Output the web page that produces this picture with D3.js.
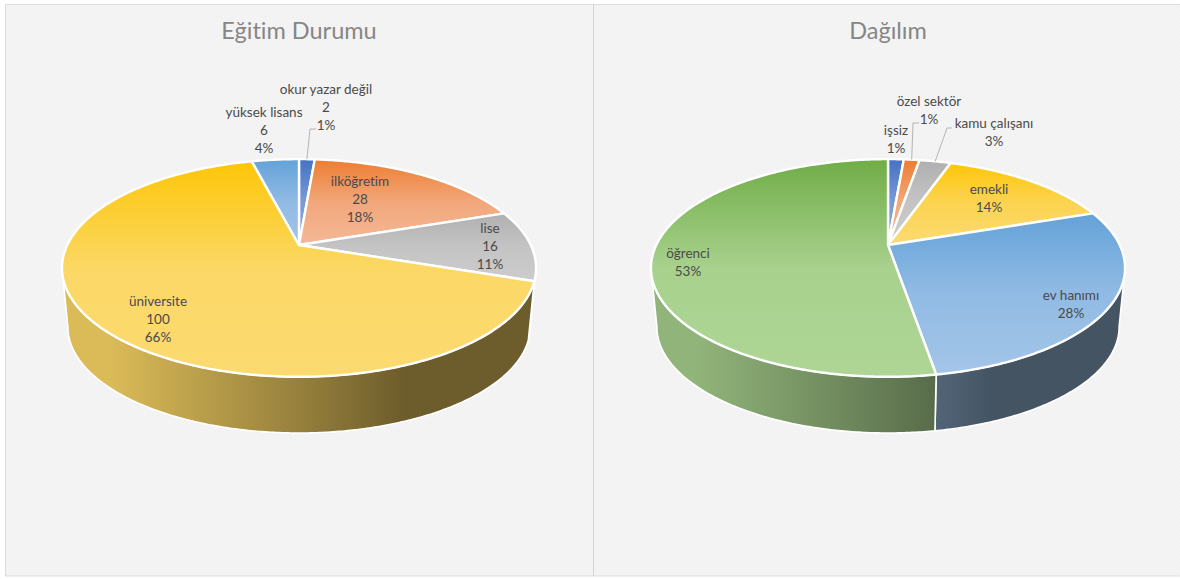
<!DOCTYPE html>
<html><head><meta charset="utf-8">
<script src="https://cdn.jsdelivr.net/npm/d3@7/dist/d3.min.js"></script>
<style>html,body{margin:0;padding:0;background:#fff}svg{display:block}text{font-family:Lato,"Noto Sans",sans-serif;font-variant-ligatures:none}</style>
</head><body>
<div id="chart"></div>
<script>
// ---- data ----
const educationTitle = "Eğitim Durumu";
const educationCategories = ["okur yazar değil", "ilköğretim", "lise", "üniversite", "yüksek lisans"];
const educationValues = [2, 28, 16, 100, 6];
const educationPercents = ["1%", "18%", "11%", "66%", "4%"];

const occupationTitle = "Dağılım";
const occupationCategories = ["işsiz", "özel sektör", "kamu çalışanı", "emekli", "ev hanımı", "öğrenci"];
const occupationValues = [2, 2, 4, 22, 42, 80];
const occupationPercents = ["1%", "1%", "3%", "14%", "28%", "53%"];

// ---- styles and layout ----
const palette = {
  navy:   {top: "#4472c4", light: "#8faadc", wall: "#8faadc"},
  orange: {top: "#ed7d31", light: "#f4b898", wall: "#f4b183"},
  gray:   {top: "#b0b0b0", light: "#cccccc", wall: "#c9c9c9"},
  yellow: {top: "#fdc608", light: "#fbda70", wall: "#ffd966"},
  blue:   {top: "#64a2d8", light: "#a3c5e8", wall: "#9dc3e6"},
  green:  {top: "#70ad47", light: "#aed595", wall: "#a9d18e"}
};
const educationColors = ["navy", "orange", "gray", "yellow", "blue"];
const occupationColors = ["navy", "orange", "gray", "yellow", "blue", "green"];
const educationLabelPos = [[326, 89], [360, 181], [490, 228], [158, 301], [264, 112]];
const occupationLabelPos = [[896, 130], [929, 101], [994, 123], [989, 189], [1071, 295], [688, 253]];
const educationLeaders = [{slice: 0, bend: [310, 129], end: [316, 129]}];
const occupationLeaders = [
  {slice: 1, bend: [913, 123], end: [919, 123]},
  {slice: 2, bend: [947, 128], end: [952, 128]}
];

const W = 1180, H = 579;
const svg = d3.select("#chart").append("svg").attr("width", W).attr("height", H);
const defs = svg.append("defs");

const tex = defs.append("pattern").attr("id", "tex").attr("width", 4).attr("height", 4)
  .attr("patternUnits", "userSpaceOnUse");
tex.append("rect").attr("width", 4).attr("height", 4).attr("fill", "#f2f2f2");
tex.append("path").attr("d", "M0,4L4,0M-1,1L1,-1M3,5L5,3").attr("stroke", "#f6f6f6").attr("stroke-width", 1);

// panels
svg.append("rect").attr("x", 5).attr("y", 4.5).attr("width", W - 5).attr("height", 571.5)
  .attr("fill", "url(#tex)");
svg.append("path").attr("d", `M${W},4.5H5.5V576H${W}`).attr("fill", "none").attr("stroke", "#dcdcdc").attr("stroke-width", 1);
svg.append("line").attr("x1", 593.5).attr("x2", 593.5).attr("y1", 4.5).attr("y2", 576)
  .attr("stroke", "#d4d4d4").attr("stroke-width", 1);

// geometry of the perspective disc
const K = 0.211, RX = 231.7, RY = 104, CY = 245;
const BOTTOM_SCALE = 0.975, BOTTOM_CY = 304.5;
const silRight = Math.PI / 2 + Math.asin(K), silLeft = 2 * Math.PI - silRight;

function project(cx, a, bottom) {
  const u = Math.sin(a), v = Math.cos(a), w = 1 + K * v;
  const s = bottom ? BOTTOM_SCALE : 1;
  return [cx + RX * s * u / w, (bottom ? BOTTOM_CY : CY) - RY * s * v / w];
}
function arcPts(cx, a0, a1, bottom) {
  const n = Math.max(2, Math.ceil(Math.abs(a1 - a0) / 0.01));
  return d3.range(n + 1).map(i => project(cx, a0 + (a1 - a0) * i / n, bottom));
}
const line = d3.line();

function wallGradient(id, cx, c) {
  const g = defs.append("linearGradient").attr("id", id).attr("gradientUnits", "userSpaceOnUse")
    .attr("x1", cx - 237).attr("x2", cx + 237).attr("y1", 0).attr("y2", 0);
  const base = d3.rgb(c.wall);
  const scale = f => d3.rgb(base.r * f, base.g * f, base.b * f).formatHex();
  [[0, .86], [.1, .86], [.5, .59], [.72, .43], [1, .43]].forEach(([o, f]) =>
    g.append("stop").attr("offset", o).attr("stop-color", scale(f)));
}
function topGradient(id, c, mid) {
  const g = defs.append("linearGradient").attr("id", id).attr("x1", 0).attr("x2", 0).attr("y1", 0).attr("y2", 1);
  g.append("stop").attr("offset", 0).attr("stop-color", c.top);
  g.append("stop").attr("offset", .5).attr("stop-color", d3.interpolateRgb(c.top, c.light)(mid));
  g.append("stop").attr("offset", 1).attr("stop-color", c.light);
}

function drawPie(o) {
  const arcs = d3.pie().sort(null).value(d => d)(o.values);
  const root = svg.append("g");

  // walls
  arcs.forEach((d, i) => {
    const a0 = Math.max(d.startAngle, silRight), a1 = Math.min(d.endAngle, silLeft);
    if (a1 <= a0) return;
    const id = `${o.key}-wall-${i}`;
    wallGradient(id, o.cx, palette[o.colors[i]]);
    const pts = arcPts(o.cx, a0, a1, false).concat(arcPts(o.cx, a1, a0, true));
    root.append("path").attr("d", line(pts) + "Z").attr("fill", `url(#${id})`)
      .attr("stroke", "#fff").attr("stroke-width", 1.6).attr("stroke-linejoin", "round");
  });

  // top faces
  arcs.forEach((d, i) => {
    const id = `${o.key}-top-${i}`;
    const pts = [[o.cx, CY]].concat(arcPts(o.cx, d.startAngle, d.endAngle, false));
    const height = d3.extent(pts, p => p[1]);
    topGradient(id, palette[o.colors[i]], height[1] - height[0] > 180 ? .9 : .72);
    root.append("path").attr("d", line(pts) + "Z").attr("fill", `url(#${id})`)
      .attr("stroke", "#fff").attr("stroke-width", 2.4).attr("stroke-linejoin", "round");
  });

  // leader lines
  o.leaders.forEach(l => {
    const d = arcs[l.slice];
    const start = project(o.cx, (d.startAngle + d.endAngle) / 2, false);
    root.append("path").attr("d", line([start, l.bend, l.end])).attr("fill", "none")
      .attr("stroke", "#b5b5b5").attr("stroke-width", 1);
  });

  // title
  root.append("text").attr("x", o.cx).attr("y", 39).attr("text-anchor", "middle")
    .attr("font-size", 23.5).attr("fill", "#868686").text(o.title);

  // labels
  o.categories.forEach((c, i) => {
    const lines = [c].concat(o.showValue ? [o.values[i]] : []).concat([o.percents[i]]);
    const [x, y] = o.labelPos[i];
    const t = root.append("text").attr("text-anchor", "middle").attr("font-size", 13.5).attr("fill", "#4a4a4a");
    lines.forEach((s, j) => t.append("tspan").attr("x", x).attr("y", y + 4.5 + j * 18).text(s));
  });
}

drawPie({key: "edu", cx: 299, title: educationTitle, categories: educationCategories, values: educationValues,
  percents: educationPercents, colors: educationColors, labelPos: educationLabelPos, leaders: educationLeaders, showValue: true});
drawPie({key: "occ", cx: 888, title: occupationTitle, categories: occupationCategories, values: occupationValues,
  percents: occupationPercents, colors: occupationColors, labelPos: occupationLabelPos, leaders: occupationLeaders, showValue: false});
</script>
</body></html>
